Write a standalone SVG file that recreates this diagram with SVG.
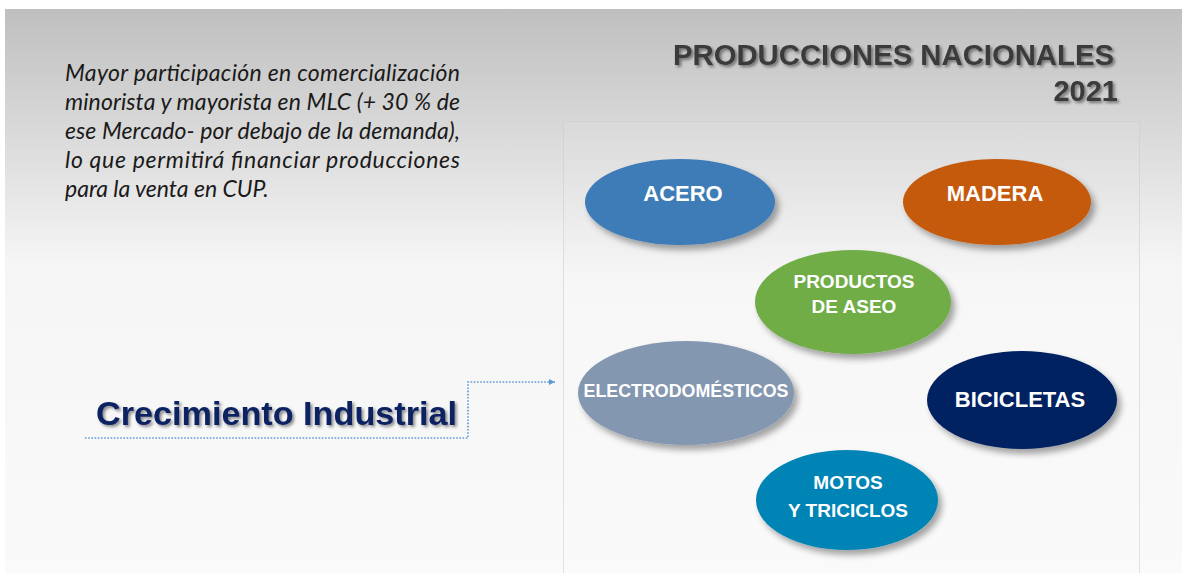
<svg xmlns="http://www.w3.org/2000/svg" width="1182" height="573" viewBox="0 0 1182 573">
<defs>
<linearGradient id="bg" x1="0" y1="0" x2="0" y2="1">
<stop offset="0" stop-color="#bfbfbf"/>
<stop offset="0.45" stop-color="#f5f5f5"/>
<stop offset="1" stop-color="#fafafa"/>
</linearGradient>
<linearGradient id="panel" x1="0" y1="0" x2="0" y2="1">
<stop offset="0" stop-color="#d9d9d9"/>
<stop offset="0.35" stop-color="#f7f7f7"/>
<stop offset="1" stop-color="#fafafa"/>
</linearGradient>
<filter id="shadow" x="-20%" y="-20%" width="150%" height="150%">
<feDropShadow dx="4" dy="5" stdDeviation="3" flood-color="#000" flood-opacity="0.35"/>
</filter>
<filter id="tshadow" x="-10%" y="-30%" width="120%" height="160%">
<feDropShadow dx="2" dy="2" stdDeviation="1.5" flood-color="#000" flood-opacity="0.45"/>
</filter>
<marker id="arr" markerWidth="8" markerHeight="8" refX="6" refY="3" orient="auto" markerUnits="userSpaceOnUse">
<path d="M0,0 L6,3 L0,6 z" fill="#5b9bd5"/>
</marker>
<style>
.para{font-family:Lato,"Open Sans",sans-serif;font-style:italic;font-size:23px;fill:#1a1a1a}
.title{font-family:"Liberation Sans",Arial,sans-serif;font-weight:bold;font-size:29px;fill:#3a3a3a}
.lbl{font-family:"Liberation Sans",Arial,sans-serif;font-weight:bold;font-size:22px;fill:#fff;text-anchor:middle}
.sm{font-size:19px}
.big{font-family:"Liberation Sans",Arial,sans-serif;font-weight:bold;font-size:34px;fill:#0b2160}
.conn{fill:none;stroke:#5b9bd5;stroke-width:1.6;stroke-dasharray:1.6 1.6}
</style>
</defs>
<rect x="0" y="0" width="1182" height="573" fill="#fff"/>
<rect x="5" y="9" width="1177" height="564" fill="url(#bg)"/>
<rect x="563.5" y="121.5" width="576" height="460" fill="url(#panel)" stroke="#c8c8c8" stroke-width="1" stroke-dasharray="1 1"/>

<g id="paragraph">
<text class="para" x="65" y="81" textLength="395" lengthAdjust="spacing">Mayor participación en comercialización</text>
<text class="para" x="65" y="110" textLength="395" lengthAdjust="spacing">minorista y mayorista en MLC (+ 30 % de</text>
<text class="para" x="65" y="139" textLength="395" lengthAdjust="spacing">ese Mercado- por debajo de la demanda),</text>
<text class="para" x="65" y="168" textLength="395" lengthAdjust="spacing">lo que permitirá financiar producciones</text>
<text class="para" x="65" y="197">para la venta en CUP.</text>
</g>

<g id="title" filter="url(#tshadow)">
<text class="title" x="673" y="65" textLength="441" lengthAdjust="spacingAndGlyphs">PRODUCCIONES  NACIONALES</text>
<text class="title" x="1118" y="101" text-anchor="end">2021</text>
</g>

<g id="connectors">
<polyline class="conn" points="85,438 468,438 468,382 555,382" marker-end="url(#arr)"/>
</g>

<g id="crecimiento" filter="url(#tshadow)">
<text class="big" x="96" y="425" textLength="361" lengthAdjust="spacingAndGlyphs">Crecimiento Industrial</text>
</g>

<g id="acero">
<ellipse cx="680" cy="202" rx="95" ry="43" fill="#3e7bb6" filter="url(#shadow)"/>
<text class="lbl" x="683" y="201">ACERO</text>
</g>
<g id="madera">
<ellipse cx="997" cy="202" rx="94" ry="43" fill="#c55a11" filter="url(#shadow)"/>
<text class="lbl" x="995" y="201">MADERA</text>
</g>
<g id="productos">
<ellipse cx="853" cy="302" rx="98" ry="52" fill="#70ad47" filter="url(#shadow)"/>
<text class="lbl sm" x="854" y="288">PRODUCTOS</text>
<text class="lbl sm" x="854" y="313">DE ASEO</text>
</g>
<g id="electro">
<ellipse cx="686" cy="393" rx="108" ry="52" fill="#8497b0" filter="url(#shadow)"/>
<text class="lbl sm" x="686" y="397" textLength="205" lengthAdjust="spacingAndGlyphs">ELECTRODOMÉSTICOS</text>
</g>
<g id="bicicletas">
<ellipse cx="1022" cy="400" rx="95" ry="49" fill="#002060" filter="url(#shadow)"/>
<text class="lbl" x="1020" y="407">BICICLETAS</text>
</g>
<g id="motos">
<ellipse cx="847" cy="500" rx="91" ry="50" fill="#0384b6" filter="url(#shadow)"/>
<text class="lbl sm" x="848" y="489">MOTOS</text>
<text class="lbl sm" x="848" y="517">Y TRICICLOS</text>
</g>
</svg>
